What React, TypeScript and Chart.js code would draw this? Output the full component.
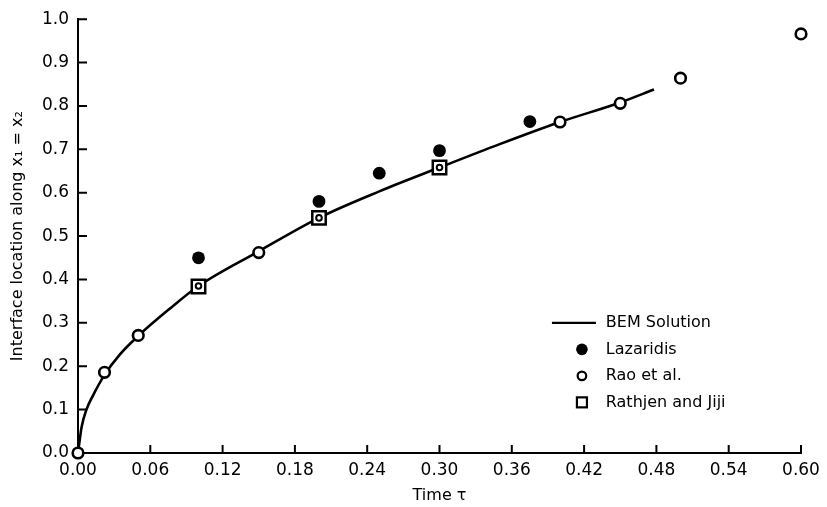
import React, { useEffect, useRef } from "react";
import { Chart, registerables } from "chart.js";

Chart.register(...registerables);

// ---- data ----
const bemTime = [0, 0.003, 0.007, 0.012, 0.022, 0.035, 0.05, 0.075, 0.1, 0.15, 0.2, 0.25, 0.3, 0.35, 0.4, 0.45, 0.478];
const bemLoc = [0, 0.06, 0.1, 0.13, 0.18, 0.228, 0.27, 0.33, 0.385, 0.465, 0.542, 0.603, 0.658, 0.712, 0.763, 0.808, 0.838];

const lazTime = [0.1, 0.2, 0.25, 0.3, 0.375];
const lazLoc = [0.45, 0.58, 0.645, 0.697, 0.764];

const raoTime = [0, 0.022, 0.05, 0.1, 0.15, 0.2, 0.3, 0.4, 0.45, 0.5, 0.6];
const raoLoc = [0, 0.186, 0.271, 0.385, 0.462, 0.542, 0.658, 0.763, 0.806, 0.864, 0.966];
const raoInsideSquare = [false, false, false, true, false, true, true, false, false, false, false];

const rjTime = [0.1, 0.2, 0.3];
const rjLoc = [0.384, 0.542, 0.658];

const xTicks = [0, 0.06, 0.12, 0.18, 0.24, 0.3, 0.36, 0.42, 0.48, 0.54, 0.6];
const yTicks = [0, 0.1, 0.2, 0.3, 0.4, 0.5, 0.6, 0.7, 0.8, 0.9, 1.0];

const seriesLabels = ["BEM Solution", "Lazaridis", "Rao et al.", "Rathjen and Jiji"];

const FONT = "'DejaVu Sans', sans-serif";

const pts = (xs: number[], ys: number[]) => xs.map((x, i) => ({ x, y: ys[i] }));

const inwardTicks = {
  id: "inwardTicks",
  afterDraw(chart: any) {
    const { ctx, chartArea, scales } = chart;
    const xs = scales.x;
    const ys = scales.y;
    ctx.save();
    ctx.strokeStyle = "#000";
    ctx.lineWidth = 2;
    ctx.beginPath();
    xTicks.forEach((v) => {
      if (v === 0) return;
      const px = xs.getPixelForValue(v);
      ctx.moveTo(px, chartArea.bottom);
      ctx.lineTo(px, chartArea.bottom - 8);
    });
    yTicks.forEach((v) => {
      if (v === 0) return;
      const py = ys.getPixelForValue(v);
      ctx.moveTo(chartArea.left, py);
      ctx.lineTo(chartArea.left + 9, py);
    });
    ctx.stroke();
    ctx.restore();
  },
};

const customLegend = {
  id: "customLegend",
  afterDraw(chart: any) {
    const { ctx, chartArea } = chart;
    const w = chartArea.right - chartArea.left;
    const h = chartArea.bottom - chartArea.top;
    const textX = chartArea.left + w * 0.73;
    const symX = chartArea.left + w * 0.697;
    const y0 = chartArea.top + h * 0.7;
    const dy = 26.5;
    ctx.save();
    ctx.font = `16px ${FONT}`;
    ctx.textBaseline = "middle";
    ctx.textAlign = "left";
    ctx.fillStyle = "#000";
    ctx.strokeStyle = "#000";
    seriesLabels.forEach((label, i) => {
      const y = y0 + i * dy;
      ctx.lineWidth = 2.2;
      if (i === 0) {
        ctx.beginPath();
        ctx.moveTo(symX - 30, y);
        ctx.lineTo(symX + 14, y);
        ctx.stroke();
      } else if (i === 1) {
        ctx.beginPath();
        ctx.arc(symX, y, 5.8, 0, Math.PI * 2);
        ctx.fill();
      } else if (i === 2) {
        ctx.beginPath();
        ctx.arc(symX, y, 4.3, 0, Math.PI * 2);
        ctx.stroke();
      } else {
        ctx.strokeRect(symX - 5, y - 5, 10, 10);
      }
      ctx.fillText(label, textX, y);
    });
    ctx.restore();
  },
};

export default function App() {
  const canvasRef = useRef<HTMLCanvasElement | null>(null);

  useEffect(() => {
    document.body.style.margin = "0";
    const canvas = canvasRef.current;
    if (!canvas) return;
    const chart = new Chart(canvas, {
      type: "scatter",
      data: {
        datasets: [
          {
            label: seriesLabels[1],
            data: pts(lazTime, lazLoc),
            pointStyle: "circle",
            pointRadius: 6.4,
            backgroundColor: "#000",
            borderColor: "#000",
            borderWidth: 0,
            clip: false,
            order: 1,
          },
          {
            label: seriesLabels[2],
            data: pts(raoTime, raoLoc),
            pointStyle: "circle",
            pointRadius: raoInsideSquare.map((s) => (s ? 2.8 : 5.3)),
            backgroundColor: "#fff",
            borderColor: "#000",
            borderWidth: raoInsideSquare.map((s) => (s ? 2 : 2.6)),
            clip: false,
            order: 2,
          },
          {
            label: seriesLabels[3],
            data: pts(rjTime, rjLoc),
            pointStyle: "rect",
            pointRadius: 9.5,
            backgroundColor: "#fff",
            borderColor: "#000",
            borderWidth: 2.5,
            clip: false,
            order: 3,
          },
          {
            label: seriesLabels[0],
            data: pts(bemTime, bemLoc),
            showLine: true,
            pointRadius: 0,
            borderColor: "#000",
            borderWidth: 2.6,
            cubicInterpolationMode: "monotone",
            fill: false,
            clip: false,
            order: 4,
          },
        ],
      },
      options: {
        animation: false,
        responsive: false,
        events: [],
        layout: { padding: { top: 18, right: 26, left: 0, bottom: 0 } },
        plugins: {
          legend: { display: false },
          tooltip: { enabled: false },
        },
        scales: {
          x: {
            type: "linear",
            min: 0,
            max: 0.6,
            afterBuildTicks: (s: any) => {
              s.ticks = xTicks.map((v) => ({ value: v }));
            },
            afterFit: (s: any) => {
              s.height = 54;
            },
            grid: { display: true, drawOnChartArea: false, drawTicks: false },
            border: { display: true, color: "#000", width: 2 },
            ticks: {
              color: "#000",
              padding: 7,
              maxRotation: 0,
              autoSkip: false,
              font: { family: FONT, size: 17 },
              callback: (v: any) => Number(v).toFixed(2),
            },
            title: {
              display: true,
              text: "Time τ",
              color: "#000",
              font: { family: FONT, size: 16 },
              padding: { top: 0, bottom: 2 },
            },
          },
          y: {
            type: "linear",
            min: 0,
            max: 1,
            afterBuildTicks: (s: any) => {
              s.ticks = yTicks.map((v) => ({ value: v }));
            },
            afterFit: (s: any) => {
              s.width = 78;
            },
            grid: { display: true, drawOnChartArea: false, drawTicks: false },
            border: { display: true, color: "#000", width: 2 },
            ticks: {
              color: "#000",
              padding: 9,
              autoSkip: false,
              font: { family: FONT, size: 17 },
              callback: (v: any) => Number(v).toFixed(1),
            },
            title: {
              display: true,
              text: "Interface location along x₁ = x₂",
              color: "#000",
              font: { family: FONT, size: 16 },
              padding: { top: 8, bottom: 0 },
            },
          },
        },
      },
      plugins: [inwardTicks, customLegend],
    } as any);
    return () => chart.destroy();
  }, []);

  return (
    <div style={{ width: 827, height: 507 }}>
      <canvas ref={canvasRef} width={827} height={507} style={{ display: "block" }} />
    </div>
  );
}
